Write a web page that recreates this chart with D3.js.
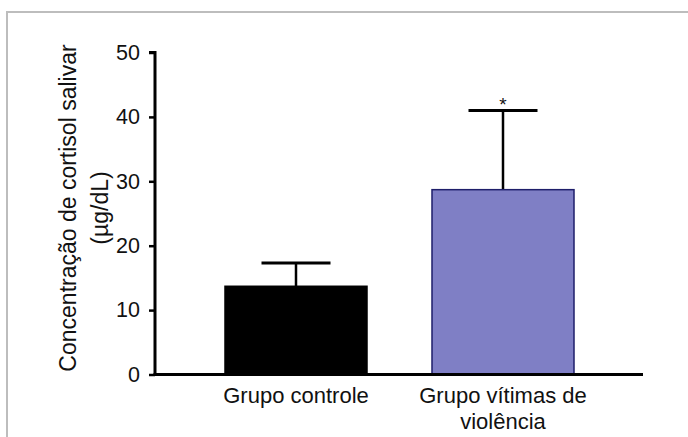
<!DOCTYPE html>
<html>
<head>
<meta charset="utf-8">
<script src="https://cdn.jsdelivr.net/npm/d3@7"></script>
<style>
html,body{margin:0;padding:0;background:#fff;}
svg{display:block;}
text{font-family:"Liberation Sans", Arial, sans-serif;fill:#111;}
</style>
</head>
<body>
<svg id="chart" width="688" height="437"></svg>
<script>
const categories = [["Grupo controle"], ["Grupo vítimas de", "violência"]];
const categoryKeys = ["controle", "violencia"];
const means = [13.7, 28.7];
const errors = [3.6, 12.3];
const significance = ["", "*"];
const barColors = ["#000000", "#7f7fc5"];
const barStrokes = ["#000000", "#1e1e6a"];
const yTicks = [0, 10, 20, 30, 40, 50];
const yTitle = ["Concentração de cortisol salivar", "(µg/dL)"];

const svg = d3.select("#chart");

// frame
svg.append("path")
  .attr("d", "M7,437 L7,12 L688,12")
  .attr("fill", "none").attr("stroke", "#bdbdbd").attr("stroke-width", 2);

const y = d3.scaleLinear().domain([0, 50]).range([374.5, 52.5]);
const x = d3.scaleBand().domain(categoryKeys).range([192.5, 606.5]).padding(0);
const barW = x.bandwidth() * 0.686;
const capW = 69;

const g = svg.append("g");
categoryKeys.forEach((k, i) => {
  const cx = x(k) + x.bandwidth() / 2;
  g.append("line")
    .attr("x1", cx).attr("x2", cx)
    .attr("y1", y(means[i])).attr("y2", y(means[i] + errors[i]))
    .attr("stroke", "#000").attr("stroke-width", 2.5);
  g.append("line")
    .attr("x1", cx - capW / 2).attr("x2", cx + capW / 2)
    .attr("y1", y(means[i] + errors[i])).attr("y2", y(means[i] + errors[i]))
    .attr("stroke", "#000").attr("stroke-width", 3);
  g.append("rect")
    .attr("x", cx - barW / 2).attr("y", y(means[i]))
    .attr("width", barW).attr("height", y(0) - y(means[i]))
    .attr("fill", barColors[i]).attr("stroke", barStrokes[i]).attr("stroke-width", 1.5);
  if (significance[i]) {
    g.append("text")
      .attr("x", cx).attr("y", y(means[i] + errors[i]) + 1)
      .attr("text-anchor", "middle").attr("font-size", 19)
      .text(significance[i]);
  }
  categories[i].forEach((line, j) => {
    g.append("text")
      .attr("x", cx).attr("y", 403 + j * 26)
      .attr("text-anchor", "middle").attr("font-size", 22)
      .text(line);
  });
});

// y axis
const yAxis = d3.axisLeft(y).tickValues(yTicks).tickSize(6).tickPadding(9);
const ya = svg.append("g").attr("transform", "translate(155,0)").call(yAxis);
ya.select(".domain").attr("stroke", "#000").attr("stroke-width", 3).attr("d", `M-6,${y(50)}H0V${y(0)}`);
ya.selectAll(".tick line").attr("stroke", "#000").attr("stroke-width", 2.5);
ya.selectAll(".tick text").attr("font-size", 21.5).attr("fill", "#111")
  .attr("font-family", "Liberation Sans, Arial, sans-serif");

// x axis line
svg.append("line")
  .attr("x1", 153.5).attr("x2", 643).attr("y1", y(0)).attr("y2", y(0))
  .attr("stroke", "#000").attr("stroke-width", 3);

// y title
yTitle.forEach((t, i) => {
  svg.append("text")
    .attr("transform", `translate(${76 + i * 32},208) rotate(-90)`)
    .attr("text-anchor", "middle").attr("font-size", 23)
    .text(t);
});
</script>
</body>
</html>
